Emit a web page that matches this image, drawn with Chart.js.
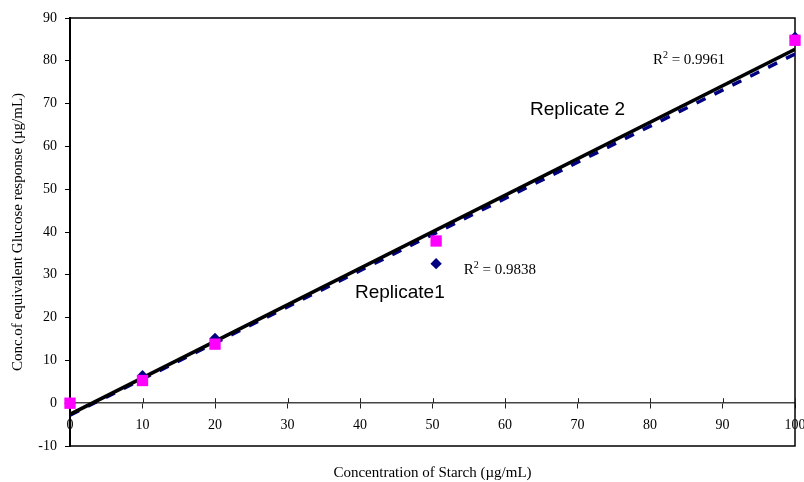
<!DOCTYPE html>
<html><head><meta charset="utf-8">
<script src="https://cdn.jsdelivr.net/npm/chart.js@4/dist/chart.umd.min.js"></script>
<style>html,body{margin:0;padding:0;background:#fff}</style>
</head><body>
<canvas id="c" width="804" height="482"></canvas>
<script>
// ---- data ----
const starchConc = [0, 10, 20, 50.5, 100];
const replicate1 = [0, 6.4, 15.1, 32.6, 85.5];
const replicate2 = [0, 5.3, 13.8, 37.9, 84.8];
const trendX = [0, 100];
const trend1Y = [-2.8, 81.6];
const trend2Y = [-2.6, 82.7];
const xTicks = [0, 10, 20, 30, 40, 50, 60, 70, 80, 90, 100];
const yTicks = [-10, 0, 10, 20, 30, 40, 50, 60, 70, 80, 90];
const seriesNames = ['Replicate1', 'Replicate 2'];
const r2Values = ['0.9838', '0.9961'];
const xTitle = 'Concentration of Starch (\u00b5g/mL)';
const yTitle = 'Conc.of equivalent Glucose response (\u00b5g/mL)';

const pts = (xs, ys) => xs.map((x, i) => ({x: x, y: ys[i]}));
const SERIF = '"Liberation Serif", "Times New Roman", serif';
const SANS = '"Liberation Sans", Arial, sans-serif';

const decor = {
  id: 'decor',
  beforeDatasetsDraw(chart) {
    const {ctx, chartArea: a, scales: {x, y}} = chart;
    ctx.save();
    ctx.strokeStyle = '#000';
    ctx.lineWidth = 1.5;
    ctx.strokeRect(a.left, a.top, a.right - a.left, a.bottom - a.top);
    // upper half of x tick marks (crossing the axis at y=0)
    const y0 = y.getPixelForValue(0);
    ctx.lineWidth = 1;
    ctx.strokeStyle = '#222';
    ctx.beginPath();
    xTicks.forEach(v => { const px = Math.round(x.getPixelForValue(v)) + 0.5; ctx.moveTo(px, y0); ctx.lineTo(px, y0 - 5); });
    ctx.stroke();
    ctx.restore();
  },
  afterDraw(chart) {
    const {ctx, chartArea: a, scales: {x, y}} = chart;
    ctx.save();
    ctx.fillStyle = '#000';
    ctx.textBaseline = 'middle';
    // x axis title
    ctx.font = '15px ' + SERIF;
    ctx.textAlign = 'center';
    ctx.fillText(xTitle, (a.left + a.right) / 2, 473);
    ctx.textAlign = 'left';
    // series labels
    ctx.font = '19px ' + SANS;
    ctx.fillText(seriesNames[1], x.getPixelForValue(63.45), y.getPixelForValue(68.5));
    ctx.fillText(seriesNames[0], x.getPixelForValue(39.3), y.getPixelForValue(25.9));
    // R² labels
    const r2 = (val, xv, yv) => {
      let px = x.getPixelForValue(xv);
      const py = y.getPixelForValue(yv);
      ctx.font = '15px ' + SERIF;
      ctx.fillText('R', px, py);
      px += ctx.measureText('R').width;
      ctx.font = '10px ' + SERIF;
      ctx.fillText('2', px, py - 5);
      px += ctx.measureText('2').width;
      ctx.font = '15px ' + SERIF;
      ctx.fillText(' = ' + val, px, py);
    };
    r2(r2Values[1], 80.4, 80.1);
    r2(r2Values[0], 54.3, 31.1);
    ctx.restore();
  }
};

new Chart(document.getElementById('c'), {
  type: 'scatter',
  data: {
    datasets: [
      {label: 'Replicate 2', data: pts(starchConc, replicate2), pointStyle: 'rect', pointRadius: 8, pointHoverRadius: 8,
       backgroundColor: '#FF00FF', borderColor: '#FF00FF', borderWidth: 0, order: 0, clip: false},
      {label: 'Replicate1', data: pts(starchConc, replicate1), pointStyle: 'rectRot', pointRadius: 5.7, pointHoverRadius: 5.7,
       backgroundColor: '#000080', borderColor: '#000080', borderWidth: 0, order: 1, clip: false},
      {label: 'Linear (Replicate 2)', data: pts(trendX, trend2Y), showLine: true, pointRadius: 0, borderColor: '#000',
       borderWidth: 3.5, order: 2},
      {label: 'Linear (Replicate1)', data: pts(trendX, trend1Y), showLine: true, pointRadius: 0, borderColor: '#000080',
       borderWidth: 3.5, borderDash: [10, 10], order: 3}
    ]
  },
  options: {
    responsive: false,
    animation: false,
    devicePixelRatio: 1,
    layout: {padding: {left: 0, right: 9, top: 18, bottom: 36}},
    plugins: {legend: {display: false}, tooltip: {enabled: false}, title: {display: false}},
    scales: {
      x: {
        type: 'linear', position: {y: 0}, min: 0, max: 100,
        afterBuildTicks: s => { s.ticks = xTicks.map(v => ({value: v})); },
        afterFit: s => { s.paddingLeft = 0; s.paddingRight = 0; s.paddingTop = 0; s.paddingBottom = 0; },
        grid: {display: true, drawOnChartArea: false, drawTicks: true, tickLength: 5, color: '#222', lineWidth: 1},
        border: {display: true, color: '#444', width: 1.5},
        ticks: {color: '#000', font: {family: SERIF, size: 14}, padding: 9, maxRotation: 0, autoSkip: false}
      },
      y: {
        type: 'linear', position: 'left', min: -10, max: 90,
        afterBuildTicks: s => { s.ticks = yTicks.map(v => ({value: v})); },
        afterFit: s => { s.width = 70; s.paddingTop = 0; s.paddingBottom = 0; },
        grid: {display: true, drawOnChartArea: false, drawTicks: true, tickLength: 5, color: '#000', lineWidth: 1},
        border: {display: true, color: '#000', width: 2},
        ticks: {color: '#000', font: {family: SERIF, size: 14}, padding: 8, autoSkip: false},
        title: {display: true, text: yTitle, color: '#000', font: {family: SERIF, size: 15}, padding: {top: 9, bottom: 0}}
      }
    }
  },
  plugins: [decor]
});
</script>
</body></html>
